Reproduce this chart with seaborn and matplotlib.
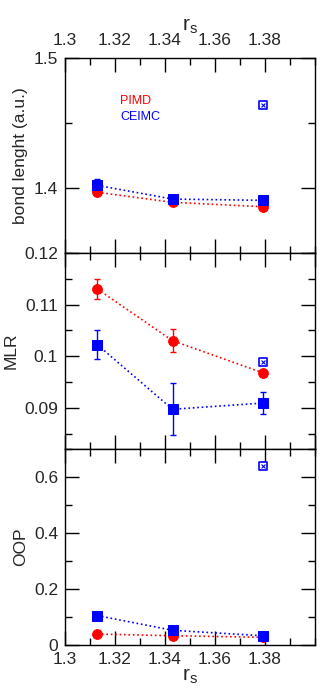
import numpy as np
import pandas as pd
import matplotlib
matplotlib.use("Agg")
import matplotlib.pyplot as plt
import seaborn as sns
from matplotlib.ticker import MultipleLocator

sns.set_style("ticks")
plt.rcParams['font.family'] = ['Liberation Sans', 'DejaVu Sans']
plt.rcParams['mathtext.fontset'] = 'custom'
plt.rcParams['mathtext.rm'] = 'Liberation Sans'
plt.rcParams['mathtext.it'] = 'Liberation Sans'

# ---- data ----
rs = [1.313, 1.343, 1.379]

bond_pimd = [1.3967, 1.389, 1.3856]
bond_pimd_err = [0.001, 0.001, 0.001]
bond_ceimc = [1.402, 1.3915, 1.3905]
bond_ceimc_err = [0.005, 0.002, 0.002]

mlr_pimd = [0.113, 0.103, 0.0968]
mlr_pimd_err = [0.002, 0.0022, 0.0003]
mlr_ceimc = [0.1022, 0.0897, 0.0909]
mlr_ceimc_err = [0.0028, 0.005, 0.0022]

oop_pimd = [0.039, 0.033, 0.0275]
oop_ceimc = [0.105, 0.0525, 0.033]

# open (crossed) square reference points
open_rs = [1.379]
open_bond = [1.4636]
open_mlr = [0.0989]
open_oop = [0.639]

legend_labels = ["PIMD", "CEIMC"]
panel_ylabels = ["bond lenght (a.u.)", "MLR", "OOP"]
xticks = [1.3, 1.32, 1.34, 1.36, 1.38]

RED = "#ff0000"
BLUE = "#0000ff"

fig = plt.figure(figsize=(3.32, 6.99), dpi=100)
W, H = 332, 699
left = 65 / W
width = 250 / W
edges = [58, 253, 449, 645]
axes = []
for i in range(3):
    top = edges[i]
    bot = edges[i + 1]
    ax = fig.add_axes([left, 1 - bot / H, width, (bot - top) / H])
    axes.append(ax)

def draw(ax, pimd, pimd_err, ceimc, ceimc_err, open_y):
    df = pd.DataFrame({"rs": rs * 2, "val": list(pimd) + list(ceimc),
                       "method": ["PIMD"] * 3 + ["CEIMC"] * 3})
    sns.lineplot(data=df[df.method == "PIMD"], x="rs", y="val", ax=ax,
                 color=RED, linestyle=":", linewidth=1.2, marker="o",
                 markersize=7, markeredgecolor=RED, zorder=3)
    sns.lineplot(data=df[df.method == "CEIMC"], x="rs", y="val", ax=ax,
                 color=BLUE, linestyle=":", linewidth=1.2, marker="s",
                 markersize=6.5, markeredgecolor=BLUE, zorder=3)
    if pimd_err is not None:
        ax.errorbar(rs, pimd, yerr=pimd_err, fmt="none", ecolor=RED,
                    elinewidth=1, capsize=2, capthick=1, zorder=2)
    if ceimc_err is not None:
        ax.errorbar(rs, ceimc, yerr=ceimc_err, fmt="none", ecolor=BLUE,
                    elinewidth=1, capsize=2, capthick=1, zorder=2)
    sns.scatterplot(x=open_rs, y=open_y, ax=ax, marker="s", s=36,
                    facecolor="white", edgecolor=BLUE, linewidth=1.2, zorder=4)
    sns.scatterplot(x=open_rs, y=open_y, ax=ax, marker="x", s=8,
                    color=BLUE, linewidth=0.8, zorder=5)

draw(axes[0], bond_pimd, bond_pimd_err, bond_ceimc, bond_ceimc_err, open_bond)
draw(axes[1], mlr_pimd, mlr_pimd_err, mlr_ceimc, mlr_ceimc_err, open_mlr)
draw(axes[2], oop_pimd, None, oop_ceimc, None, open_oop)

ylims = [(1.35, 1.5), (0.082, 0.12), (0.0, 0.7)]
ymaj = [0.1, 0.01, 0.2]
ymin = [0.05, 0.005, 0.1]
for i, ax in enumerate(axes):
    ax.set_xlim(1.3, 1.4)
    ax.set_ylim(*ylims[i])
    ax.xaxis.set_major_locator(MultipleLocator(0.02))
    ax.xaxis.set_minor_locator(MultipleLocator(0.01))
    ax.yaxis.set_major_locator(MultipleLocator(ymaj[i]))
    ax.yaxis.set_minor_locator(MultipleLocator(ymin[i]))
    ax.tick_params(which="both", direction="in", top=True, right=True,
                   bottom=True, left=True, width=1, color="black",
                   labelsize=12.5, pad=5)
    ax.tick_params(which="major", length=10)
    ax.tick_params(which="minor", length=5)
    for s in ax.spines.values():
        s.set_linewidth(1)
        s.set_color("black")
    ax.set_ylabel(panel_ylabels[i], fontsize=12.5)
    ax.set_xlabel("")
    if ax.get_legend():
        ax.get_legend().remove()

axes[0].set_xticks(xticks)
axes[0].set_xticklabels([f"{t:g}" for t in xticks])
axes[0].tick_params(labeltop=True, labelbottom=False, pad=7)
axes[0].xaxis.set_label_position("top")
axes[0].set_xlabel("r$_\\mathregular{s}$", fontsize=15, labelpad=2)
axes[0].set_yticks([1.4, 1.5])
axes[0].set_yticklabels(["1.4", "1.5"])
axes[0].tick_params(axis="y", pad=5)

axes[1].tick_params(labelbottom=False, labeltop=False)
axes[1].set_yticks([0.09, 0.1, 0.11, 0.12])
axes[1].set_yticklabels(["0.09", "0.1", "0.11", "0.12"])

axes[2].set_xticks(xticks)
axes[2].set_xticklabels([f"{t:g}" for t in xticks])
axes[2].set_xlabel("r$_\\mathregular{s}$", fontsize=15, labelpad=0)
axes[2].set_yticks([0, 0.2, 0.4, 0.6])
axes[2].set_yticklabels(["0", "0.2", "0.4", "0.6"])

# legend as coloured text
axes[0].text(0.22, 0.78, legend_labels[0], color=RED, fontsize=9,
             transform=axes[0].transAxes, ha="left", va="center")
axes[0].text(0.22, 0.70, legend_labels[1], color=BLUE, fontsize=9,
             transform=axes[0].transAxes, ha="left", va="center")

fig.savefig("out.png", dpi=100)
